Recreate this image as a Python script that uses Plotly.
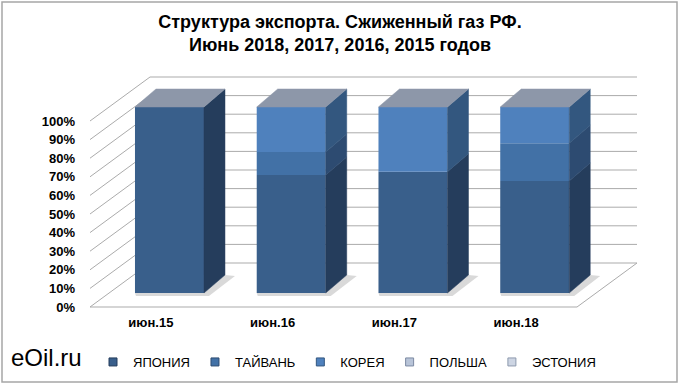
import plotly.graph_objects as go

# ---------------- data ----------------
categories = ["июн.15", "июн.16", "июн.17", "июн.18"]
series_names = ["ЯПОНИЯ", "ТАЙВАНЬ", "КОРЕЯ", "ПОЛЬША", "ЭСТОНИЯ"]
japan = [1.00, 0.635, 0.652, 0.602]
taiwan = [0.00, 0.123, 0.000, 0.203]
korea = [0.00, 0.242, 0.348, 0.195]
poland = [0.00, 0.000, 0.000, 0.000]
estonia = [0.00, 0.000, 0.000, 0.000]
y_ticks = [0, 0.1, 0.2, 0.3, 0.4, 0.5, 0.6, 0.7, 0.8, 0.9, 1.0]
y_tick_labels = ["0%", "10%", "20%", "30%", "40%", "50%", "60%", "70%", "80%", "90%", "100%"]

series_values = [japan, taiwan, korea, poland, estonia]
front_colors = ["#395f8b", "#4271a6", "#4f81bd", "#b8c4d8", "#cdd5e3"]
side_colors = ["#253d5c", "#2d4b71", "#33577f", "#7c8aa2", "#8d99ad"]
top_color = "#8d97a9"
grid_color = "#ababab"

# ---------------- geometry (pixel scale of the oblique projection) ----------------
W, H = 680, 385
ML, MR, MT, MB = 90, 30, 60, 75
KX = 121.75          # px per category unit
KY = 186.0           # px per 100 %
plot_w = W - ML - MR
plot_h = H - MT - MB
x_range = [-0.5, -0.5 + plot_w / KX]
y_bottom_px = 3.0
y_range = [-y_bottom_px / KY, (plot_h - y_bottom_px) / KY]

wall_dx, wall_dy = 60 / KX, 44 / KY       # depth of floor / walls
bar_ox, bar_oy = 18.6 / KX, 14 / KY       # front face offset into depth
bar_dx, bar_dy = 21 / KX, 18 / KY         # bar depth
bar_w = 69 / KX

fig = go.Figure()

def poly(xs, ys, color):
    fig.add_trace(go.Scatter(
        x=xs + [xs[0]], y=ys + [ys[0]], mode="lines", fill="toself",
        fillcolor=color, line=dict(color=color, width=0.5),
        hoverinfo="skip", showlegend=False))

def shape_line(xs, ys):
    path = "M" + " L".join(f"{a},{b}" for a, b in zip(xs, ys))
    fig.add_shape(type="path", path=path, xref="x", yref="y",
                  line=dict(color=grid_color, width=1), layer="below")

n = len(categories)
x0, x1 = -0.5, n - 0.5
# left wall + back wall gridlines
for t in y_ticks:
    shape_line([x0, x0 + wall_dx, x1 + wall_dx], [t, t + wall_dy, t + wall_dy])
# floor front and right edges
shape_line([x0, x1, x1 + wall_dx], [0, 0, wall_dy])

# soft shadows on the floor
for i in range(n):
    xl = i + bar_ox - bar_w / 2
    xr = xl + bar_w
    b = bar_oy
    pts = [(xl + 1 / KX, b - 3 / KY), (xr + 5 / KX, b - 3 / KY),
           (xr + bar_dx + 10 / KX, b + bar_dy - 1 / KY), (xr + bar_dx, b + bar_dy),
           (xr, b), (xl, b)]
    path = "M" + " L".join(f"{a},{c}" for a, c in pts) + " Z"
    fig.add_shape(type="path", path=path, xref="x", yref="y",
                  fillcolor="#cfcfcf", line=dict(width=0), opacity=0.8, layer="below")

# front faces as bars
for s, (name, vals) in enumerate(zip(series_names, series_values)):
    bases = [bar_oy + sum(series_values[k][i] for k in range(s)) for i in range(n)]
    fig.add_trace(go.Bar(
        x=[i + bar_ox for i in range(n)], y=vals, base=bases, width=bar_w,
        marker=dict(color=front_colors[s], line=dict(width=0)),
        name=name, legendgroup=name, showlegend=False,
        hovertemplate=name + ": %{y:.0%}<extra></extra>"))

# side faces and top
for i in range(n):
    xl = i + bar_ox - bar_w / 2
    xr = xl + bar_w
    cum = bar_oy
    for s, vals in enumerate(series_values):
        v = vals[i]
        if v <= 0:
            continue
        b0, b1 = cum, cum + v
        poly([xr, xr + bar_dx, xr + bar_dx, xr],
             [b0, b0 + bar_dy, b1 + bar_dy, b1], side_colors[s])
        cum = b1
    poly([xl, xl + bar_dx, xr + bar_dx, xr],
         [cum, cum + bar_dy, cum + bar_dy, cum], top_color)

# legend entries (small square markers)
for s, name in enumerate(series_names):
    fig.add_trace(go.Scatter(
        x=[None], y=[None], mode="markers", name=name, legendgroup=name,
        marker=dict(symbol="square", size=8, color=front_colors[s],
                    line=dict(color=side_colors[s], width=1))))

def px_to_paper(px, py):
    return (px - ML) / plot_w, (H - MB - py) / plot_h

bx0, by0 = px_to_paper(2, 2)
bx1, by1 = px_to_paper(677, 382)
fig.add_shape(type="rect", xref="paper", yref="paper", x0=bx0, y0=by0, x1=bx1, y1=by1,
              line=dict(color="#a6a6a6", width=1.5), layer="below")

ex, ey = px_to_paper(9, 357)
fig.add_annotation(text="eOil.ru", xref="paper", yref="paper", x=ex, y=ey,
                   xanchor="left", yanchor="middle", showarrow=False,
                   font=dict(family="Liberation Sans, Arial", size=24, color="#000000"))

lx, ly = px_to_paper(93, 362)
fig.update_layout(
    width=W, height=H,
    margin=dict(l=ML, r=MR, t=MT, b=MB, autoexpand=False),
    paper_bgcolor="white", plot_bgcolor="white",
    title=dict(text="Структура экспорта. Сжиженный газ РФ.<br>Июнь 2018, 2017, 2016, 2015 годов",
               x=0.5, xanchor="center", y=1 - 28 / H, yanchor="middle",
               font=dict(family="Liberation Sans Narrow, Arial Narrow, Liberation Sans", size=18,
                         color="#000000", weight="bold")),
    barmode="overlay",
    showlegend=True,
    legend=dict(orientation="h", x=lx, y=ly, xanchor="left", yanchor="middle",
                font=dict(family="Liberation Sans Narrow, Arial Narrow, Liberation Sans", size=13,
                          color="#000000"),
                itemwidth=30, tracegroupgap=0, bgcolor="rgba(0,0,0,0)"),
    xaxis=dict(range=x_range, tickvals=list(range(n)), ticktext=categories,
               showgrid=False, zeroline=False, showline=False, ticks="",
               ticklabelstandoff=3,
               tickfont=dict(family="Liberation Sans Narrow, Arial Narrow, Liberation Sans",
                             size=13, color="#000000", weight="bold"),
               fixedrange=True),
    yaxis=dict(range=y_range, tickvals=y_ticks, ticktext=y_tick_labels,
               showgrid=False, zeroline=False, showline=False, ticks="",
               ticklabelstandoff=14,
               tickfont=dict(family="Liberation Sans, Arial", size=13, color="#000000",
                             weight="bold"),
               fixedrange=True),
)

fig.write_html("out.html", config={"displayModeBar": False},
               post_script="document.body.style.margin='0';")
